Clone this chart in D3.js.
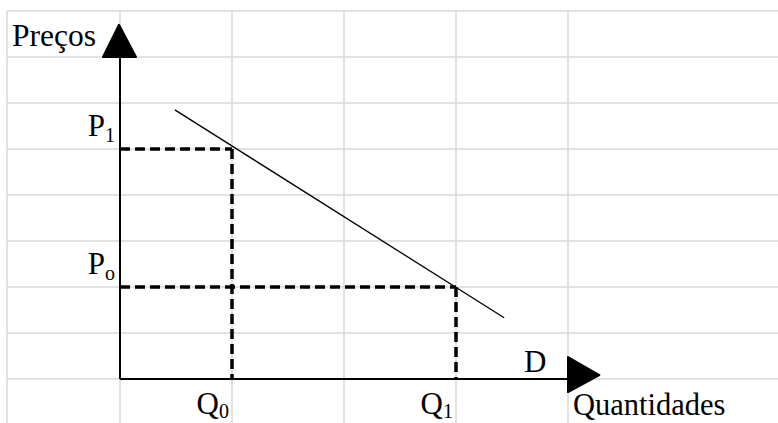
<!DOCTYPE html>
<html>
<head>
<meta charset="utf-8">
<script src="https://cdn.jsdelivr.net/npm/d3@7"></script>
<style>
  body { margin: 0; background: #fff; }
  text { font-family: "Liberation Serif", "Times New Roman", serif; fill: #000; }
</style>
</head>
<body>
<div id="plot"></div>
<script>
// values in grid units (1 unit = one cell)
let gridQ = [-1, 0, 1, 2, 3, 4];
let gridP = [0, 1, 2, 3, 4, 5, 6, 7, 8];
let demand = [{ q: 0.49, p: 5.85 }, { q: 3.43, p: 1.33 }];
let points = [{ name: "0", q: 1, p: 5 }, { name: "1", q: 3, p: 2 }];
let priceLabels = [{ main: "P", sub: "1", p: 5 }, { main: "P", sub: "o", p: 2 }];
let qtyLabels = [{ main: "Q", sub: "0", q: 1 }, { main: "Q", sub: "1", q: 3 }];

let svgWidth = 778;
let svgHeight = 423;

let x = d3.scaleLinear().domain([0, 1]).range([120, 232]);
let y = d3.scaleLinear().domain([0, 1]).range([379, 333]);

let svg = d3.select('#plot')
    .append('svg')
    .attr('width', svgWidth)
    .attr('height', svgHeight);

// spreadsheet grid
svg.selectAll('.hgrid').data(gridP).enter()
    .append('line')
    .attr('x1', 7).attr('x2', svgWidth)
    .attr('y1', d => y(d)).attr('y2', d => y(d))
    .attr('stroke', '#d9d9d9').attr('stroke-width', 1.5);

svg.selectAll('.vgrid').data(gridQ).enter()
    .append('line')
    .attr('x1', d => d < 0 ? 7 : x(d)).attr('x2', d => d < 0 ? 7 : x(d))
    .attr('y1', y(8)).attr('y2', svgHeight)
    .attr('stroke', '#d9d9d9').attr('stroke-width', 1.5);

// dashed guides
points.forEach(function(d){
    svg.append('line')
        .attr('x1', x(0)).attr('x2', x(d.q))
        .attr('y1', y(d.p)).attr('y2', y(d.p))
        .attr('stroke', '#000').attr('stroke-width', 3.5)
        .attr('stroke-dasharray', '10,5');
    svg.append('line')
        .attr('x1', x(d.q)).attr('x2', x(d.q))
        .attr('y1', y(d.p)).attr('y2', y(0))
        .attr('stroke', '#000').attr('stroke-width', 3.5)
        .attr('stroke-dasharray', '10,5');
});

// demand line
svg.append('path')
    .datum(demand)
    .attr('d', d3.line().x(d => x(d.q)).y(d => y(d.p)))
    .attr('stroke', '#000').attr('stroke-width', 1.3).attr('fill', 'none');

// axes
svg.append('line')
    .attr('x1', x(0)).attr('x2', x(0))
    .attr('y1', y(0)).attr('y2', y(7))
    .attr('stroke', '#000').attr('stroke-width', 2);
svg.append('line')
    .attr('x1', x(0)).attr('x2', x(4))
    .attr('y1', y(0)).attr('y2', y(0))
    .attr('stroke', '#000').attr('stroke-width', 2);

// arrow heads
svg.append('path')
    .attr('d', `M${x(0) - 17},${y(7)} L${x(0) - 1},${y(7.7)} L${x(0) + 16},${y(7)} Z`)
    .attr('fill', '#000').attr('stroke', '#000').attr('stroke-width', 2)
    .attr('stroke-linejoin', 'round');
svg.append('path')
    .attr('d', `M${x(4)},${y(0) - 22} L${x(4.28)},${y(0) - 4} L${x(4)},${y(0) + 13} Z`)
    .attr('fill', '#000').attr('stroke', '#000').attr('stroke-width', 2)
    .attr('stroke-linejoin', 'round');

// labels
svg.append('text').attr('x', 12).attr('y', 46)
    .attr('font-size', 31.5).text('Preços');
svg.append('text').attr('x', 573).attr('y', 415)
    .attr('font-size', 30.5).text('Quantidades');
svg.append('text').attr('x', 524).attr('y', 372)
    .attr('font-size', 31).text('D');

priceLabels.forEach(function(d){
    let t = svg.append('text')
        .attr('x', x(0) - 5).attr('y', y(d.p) - 13)
        .attr('text-anchor', 'end').attr('font-size', 31);
    t.append('tspan').text(d.main);
    t.append('tspan').attr('font-size', 20).attr('dy', 6).text(d.sub);
});

qtyLabels.forEach(function(d){
    let t = svg.append('text')
        .attr('x', x(d.q) - 3).attr('y', y(0) + 35)
        .attr('text-anchor', 'end').attr('font-size', 31);
    t.append('tspan').text(d.main);
    t.append('tspan').attr('font-size', 20).attr('dy', 4).text(d.sub);
});
</script>
</body>
</html>
